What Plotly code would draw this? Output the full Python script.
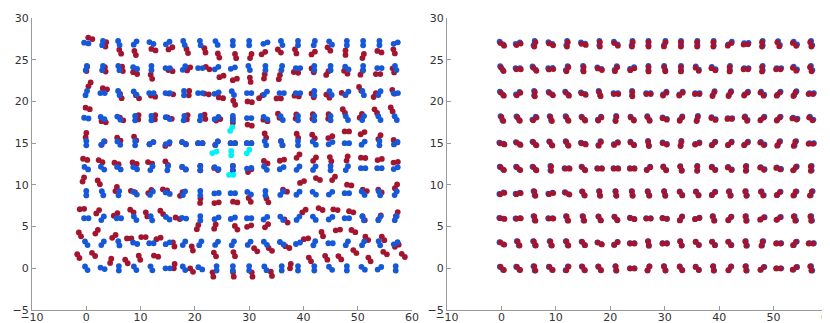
import numpy as np
import plotly.graph_objects as go

# ---------------- data ----------------
GRID_X = [0, 3, 6, 9, 12, 15, 18, 21, 24, 27, 30, 33, 36, 39, 42, 45, 48, 51, 54, 57]
GRID_Y = [27, 24, 21, 18, 15, 12, 9, 6, 3, 0]  # rows, top to bottom

# left panel: orientation (deg) of each blue pair
L_BLUE_ANG = [
    [-10, 80, -70, 50, -25, 35, -70, -80, -60, 90, 90, 20, -70, 90, 75, -50, 90, 90, 90, 20],
    [75, 80, -75, -25, 90, 0, 55, 0, 35, 20, -70, 90, 80, 0, 90, 90, -40, 90, 0, -70],
    [70, 0, -70, -50, 0, 0, 90, 0, 20, -60, 0, 45, 0, 0, 90, -60, 45, -70, 60, 0],
    [-10, -30, -45, 90, 90, -25, 80, 80, 30, 90, 0, -35, -60, 90, 90, 90, -60, 65, -60, -60],
    [90, 50, -50, 90, 30, 30, -30, 0, 55, 0, 0, -70, -70, 90, -45, 30, 0, 45, 90, 35],
    [-35, -40, -35, -30, 60, 80, -35, 90, -30, 90, 10, -50, 30, 50, 55, 90, 60, 0, 0, 25],
    [90, -70, 80, -40, 50, -20, 60, 90, 5, 0, -35, 90, 50, 45, -40, 40, 0, -50, -70, 60],
    [0, 55, 0, -55, -70, -35, -10, 90, 25, 20, 0, 35, -50, 50, -50, 35, 0, -70, 60, 65],
    [-55, 55, -75, -20, 0, 25, 55, 60, 50, 60, 50, -45, -35, 20, 65, 0, 60, 60, -70, 30],
    [-55, -20, 90, -55, -65, 0, -55, -30, 90, 90, 90, -60, 90, 90, 90, -45, 90, -40, 35, 90],
]

# left panel: red pair offset from grid point (x, y units) and orientation
L_RED_DX = [
    [0.74, 0.6, 0.25, 0.0, 0.37, 0.5, 0.6, 0.86, 0.37, 0.5, 0.3, -0.37, -0.43, -0.43, -0.2, -0.3, -0.25, 0.0, 0.0, -0.3],
    [0.1, 0.5, 0.67, 0.0, 0.0, 0.5, 0.86, 1.35, 0.9, 0.37, 0.2, -0.2, -0.43, -0.37, -0.3, -0.6, -0.2, -0.3, -0.25, -0.43],
    [0.6, 0.43, 0.37, 0.43, 0.3, 0.6, 0.92, 1.17, 0.8, 0.25, 0.1, -0.86, -0.55, -0.25, -0.3, -0.5, -0.6, -0.55, -0.86, -0.43],
    [0.25, 0.2, 0.5, 0.6, 0.67, 0.37, 0.6, 0.86, 0.3, 0.0, 0.1, 0.0, -0.55, -0.37, -0.3, -0.4, -0.55, -0.43, -0.67, -0.74],
    [-0.06, 0.1, 0.0, 0.0, 0.0, -0.1, 0.0, 0.0, 0.0, 0.0, 0.0, 0.0, 0.0, -0.1, -0.15, -0.05, 0.0, -0.1, 0.0, -0.05],
    [-0.2, -0.37, -0.43, -0.1, -0.25, -0.2, 0.0, 0.0, -0.1, 0.0, 0.1, 0.05, 0.05, 0.0, 0.05, 0.0, 0.05, 0.0, 0.05, 0.0],
    [-0.55, -0.7, -0.5, -0.4, -0.3, -0.5, -0.5, 0.0, 0.0, 0.43, 0.1, 0.37, 0.6, 0.74, 0.67, 0.55, 0.43, 0.3, 0.1, 0.05],
    [-0.8, -0.9, -0.6, -0.6, -0.9, -1.1, -1.17, -0.5, -0.3, 0.6, 0.0, 0.2, 0.8, 1.1, 1.16, 0.9, 0.8, 0.1, 0.05, 0.2],
    [-1.17, -1.1, -0.92, -1.1, -1.47, -1.7, -1.9, -1.47, -0.3, 0.25, 1.2, 0.9, 1.04, 1.47, 1.47, 1.35, 1.2, 0.67, 0.67, 0.2],
    [-1.47, -1.66, -1.5, -1.6, -2.2, -2.15, -1.8, -1.6, -0.67, 0.1, 0.55, 1.1, 1.6, 2.2, 2.2, 1.7, 1.47, 1.17, 1.04, 1.4],
]
L_RED_DY = [
    [0.56, -0.16, -1.04, -1.2, -0.8, -0.64, -0.96, -0.88, -1.5, -1.56, -1.56, -1.2, -0.96, -1.0, -1.2, -0.72, -1.16, -1.56, -1.04, -1.0],
    [-0.1, -0.16, -0.1, -0.6, -1.04, -0.3, -0.1, 0.0, -1.0, -1.36, -1.4, -1.0, -1.08, -0.52, -0.28, -0.6, -0.5, -0.56, -0.72, -0.28],
    [1.04, 0.52, -0.36, -0.44, -0.36, -0.1, 0.0, -0.1, -0.56, -1.16, -1.04, -0.44, -0.64, -0.36, -0.28, -0.36, -0.1, 0.5, -0.24, 0.16],
    [1.16, -0.44, -0.1, 0.1, 0.1, 0.0, 0.1, 0.16, -0.2, -0.3, -0.84, -0.28, 0.28, 0.2, 0.2, 0.2, 0.84, 0.28, 0.84, 1.04],
    [0.96, 0.0, 0.48, 0.56, 0.0, -0.2, 0.0, 0.0, 0.0, 0.0, 0.0, 0.92, 0.0, 0.88, 0.8, 0.72, 1.4, 1.2, 0.72, 0.24],
    [1.06, 0.84, 0.56, 0.6, 0.64, 0.6, 0.0, 0.0, -0.1, 0.0, -0.3, 0.72, 0.96, 1.44, 1.08, 1.08, 1.16, 1.24, 1.04, 0.72],
    [1.64, 1.3, 0.5, 0.2, 0.2, 0.4, -0.1, -0.9, -1.14, -1.06, -0.8, -0.86, 0.3, 1.34, 1.7, 1.78, 0.98, 0.34, 0.26, 0.82],
    [1.1, 0.78, 0.46, 0.86, 0.46, 0.7, 0.0, -1.06, -1.0, -1.14, -0.94, -0.9, -0.34, 0.86, 1.1, 1.02, 0.78, 0.0, 0.1, 0.5],
    [1.06, 1.38, 0.82, 0.58, 0.74, 0.58, -0.14, -0.62, -1.34, -1.3, -0.78, -0.74, -0.46, 0.54, 1.1, 1.6, 1.46, 0.58, 0.58, -0.3],
    [1.46, 1.66, 0.9, 0.82, 1.26, 1.46, 0.26, -0.22, -0.74, -0.74, -0.74, -0.66, 0.26, 1.06, 1.26, 1.26, 2.0, 1.06, 1.82, 1.54],
]
L_RED_ANG = [
    [-20, 80, -65, -70, -20, 30, -70, -75, -70, -75, 70, 35, -45, -70, 40, -50, 90, 70, -20, -70],
    [80, -80, -80, -25, -70, -15, 45, -35, 20, 20, -80, 80, 75, -10, -60, 60, -40, 60, 0, -70],
    [60, -15, -70, -45, -15, -10, 85, -10, -10, -65, -10, 40, 0, -10, -60, -45, -30, -60, 60, -60],
    [-20, -15, -40, 85, 85, -20, 80, -80, 20, 90, -15, -20, -70, 80, 85, 85, -60, 60, -55, -65],
    [80, 50, -40, -60, 30, 30, -30, 0, 55, 0, 0, -70, -70, -70, -55, 25, 0, 30, 60, -35],
    [-15, -30, -20, -20, -20, -55, -35, 90, -30, 90, 40, -35, 15, 50, 50, -70, 75, -5, 15, 10],
    [70, -60, 70, -20, 45, -15, 55, 85, 10, -10, -60, -65, -25, 25, -25, 50, -10, -20, -40, 60],
    [5, 50, 35, -40, -70, -50, -20, 70, 70, -55, 20, 45, -45, 40, -25, -10, -15, -60, 60, 65],
    [-60, 55, 40, 0, 0, 20, -70, -75, -60, -70, -45, -40, -25, 10, -70, 10, -30, -50, -55, 30],
    [-60, -45, 75, -55, -70, -15, 80, -50, -80, -80, -80, -75, 80, -60, -60, -50, -45, -60, -35, -45],
]

# left panel: highlighted (cyan) pairs near the image centre
CYAN_X = [23.6, 26.7, 26.7, 26.7, 29.8]
CYAN_Y = [13.9, 16.7, 13.8, 11.2, 14.0]
CYAN_ANG = [20, 60, 90, 0, 55]

# right panel: orientation of each blue pair
R_BLUE_ANG = [
    [-35, 20, 75, -25, 80, -15, 90, -35, 80, 90, 70, 90, 90, 90, 35, 5, 90, -65, -40, -75],
    [-55, 0, -45, 5, 65, 90, -20, 60, 25, 90, -75, 90, -45, -30, 90, 0, 90, 0, -40, -70],
    [-45, 35, 90, -35, -45, -20, -70, 0, 90, 0, 40, 40, 0, 65, 60, 40, -45, 45, 60, 0],
    [-65, -55, 40, -70, -60, -45, 45, 80, -45, -60, -20, 55, 75, -25, 0, -55, 40, 45, -15, -40],
    [-15, -30, -45, -55, -60, -15, 60, 30, -40, -80, -20, 80, 20, 45, 40, 40, -35, 60, 70, 0],
    [-40, -40, -45, 90, 0, -45, 0, 0, 0, 40, -50, -70, 90, -40, -35, 90, -30, -20, 50, 90],
    [20, 15, -75, 15, -25, -60, -80, -80, -80, -70, -75, -55, -55, 45, -70, -75, -60, 45, 60, 65],
    [-10, 5, -75, 0, -70, -75, -60, -50, -15, 0, -10, 60, 15, -70, 50, -80, 30, 35, -70, -80],
    [-30, -65, -65, -70, -65, -50, -25, 40, 0, -80, 0, -70, -45, -50, -50, -75, 75, 0, 50, 0],
    [-45, -45, -75, -45, 60, -55, -55, -80, 0, 65, -70, -55, -45, -80, 55, -80, 40, 0, 35, -75],
]
# right panel: small residual shift of the red pairs (by column and by row)
R_RED_DX_COL = [0.16, 0.15, 0.14, 0.13, 0.12, 0.1, 0.08, 0.06, 0.05, 0.03, 0.0, -0.02, -0.04, -0.06, -0.08, -0.1, -0.12, -0.13, -0.15, -0.16]
R_RED_DY_ROW = [-0.16, -0.14, -0.12, -0.1, -0.08, -0.06, -0.05, -0.04, -0.03, -0.02]

# ---------------- geometry helpers ----------------
X_RANGE = [-10, 60]
Y_RANGE = [-5, 30]
W, H = 830, 323
M_L, M_R, M_T, M_B = 24, 10, 10, 21
PLOT_W = 380.0
PLOT_H = H - M_T - M_B
SX = PLOT_W / (X_RANGE[1] - X_RANGE[0])
SY = PLOT_H / (Y_RANGE[1] - Y_RANGE[0])
HALF = 2.2  # px half-separation of the two dots in a pair


def pairs(cx, cy, ang):
    xs, ys = [], []
    for x, y, a in zip(cx, cy, ang):
        r = np.radians(a)
        ox = HALF * np.cos(r) / SX
        oy = HALF * np.sin(r) / SY
        xs += [x - ox, x + ox]
        ys += [y - oy, y + oy]
    return xs, ys


def flat_grid():
    cx, cy = [], []
    for y in GRID_Y:
        for x in GRID_X:
            cx.append(x)
            cy.append(y)
    return cx, cy


def flat(m):
    return [v for row in m for v in row]


gx, gy = flat_grid()

BLUE = "#1659d8"
RED = "#a3152f"
CYAN = "#00f2f2"
MS = 5.8

fig = go.Figure()

# left panel
lrx = [x + d for x, d in zip(gx, flat(L_RED_DX))]
lry = [y + d for y, d in zip(gy, flat(L_RED_DY))]
rx, ry = pairs(lrx, lry, flat(L_RED_ANG))
fig.add_trace(go.Scatter(x=rx, y=ry, mode="markers", marker=dict(color=RED, size=MS),
                         xaxis="x", yaxis="y", hoverinfo="skip"))
bx, by = pairs(gx, gy, flat(L_BLUE_ANG))
fig.add_trace(go.Scatter(x=bx, y=by, mode="markers", marker=dict(color=BLUE, size=MS),
                         xaxis="x", yaxis="y", hoverinfo="skip"))
cxs, cys = pairs(CYAN_X, CYAN_Y, CYAN_ANG)
fig.add_trace(go.Scatter(x=cxs, y=cys, mode="markers", marker=dict(color=CYAN, size=MS),
                         xaxis="x", yaxis="y", hoverinfo="skip"))

# right panel
bx2, by2 = pairs(gx, gy, flat(R_BLUE_ANG))
fig.add_trace(go.Scatter(x=bx2, y=by2, mode="markers", marker=dict(color=BLUE, size=MS),
                         xaxis="x2", yaxis="y2", hoverinfo="skip"))
rrx, rry = [], []
for i, y in enumerate(GRID_Y):
    for j, x in enumerate(GRID_X):
        rrx.append(x + R_RED_DX_COL[j])
        rry.append(y + R_RED_DY_ROW[i])
rx2, ry2 = pairs(rrx, rry, flat(R_BLUE_ANG))
fig.add_trace(go.Scatter(x=rx2, y=ry2, mode="markers", marker=dict(color=RED, size=MS),
                         xaxis="x2", yaxis="y2", hoverinfo="skip"))

axis_style = dict(showline=True, linecolor="#9a9a9a", linewidth=1, ticks="inside",
                  ticklen=4, tickcolor="#9a9a9a", showgrid=False, zeroline=False,
                  mirror=False, tickfont=dict(family="DejaVu Sans", size=11, color="#333333"),
                  automargin=False)
x_style = dict(axis_style, ticklabelstandoff=-3)

tot_w = W - M_L - M_R
fig.update_layout(
    width=W, height=H,
    margin=dict(l=M_L, r=M_R, t=M_T, b=M_B, pad=0),
    paper_bgcolor="white", plot_bgcolor="white",
    showlegend=False,
    xaxis=dict(domain=[0, PLOT_W / tot_w], range=X_RANGE, dtick=10, anchor="y", **x_style),
    yaxis=dict(domain=[0, 1], range=Y_RANGE, dtick=5, anchor="x", **axis_style),
    xaxis2=dict(domain=[(439 - M_L) / tot_w, 1], range=X_RANGE, dtick=10, anchor="y2", **x_style),
    yaxis2=dict(domain=[0, 1], range=Y_RANGE, dtick=5, anchor="x2", **axis_style),
)

fig.write_html("out.html")
